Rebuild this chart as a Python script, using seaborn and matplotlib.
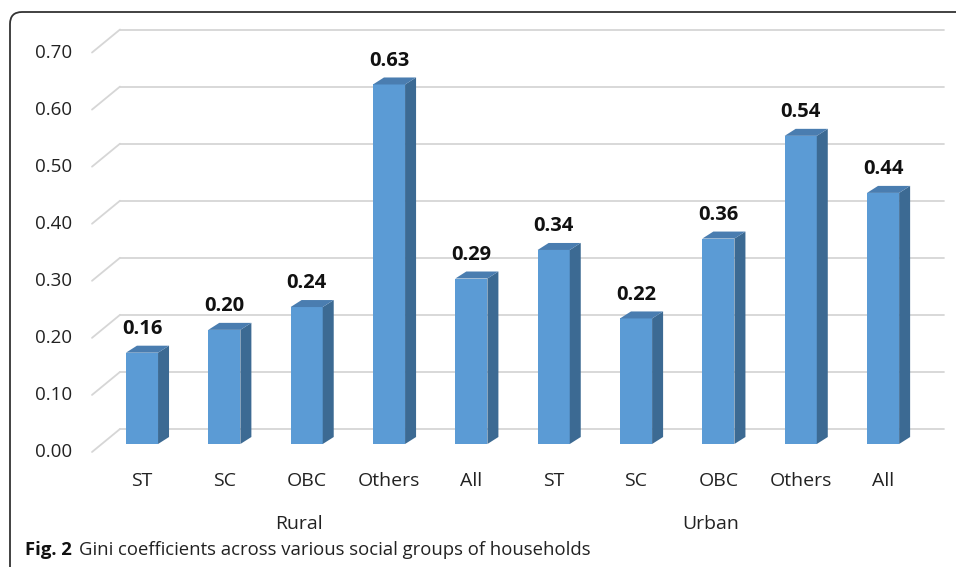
import matplotlib
matplotlib.use("Agg")
import matplotlib.pyplot as plt
import matplotlib.transforms as mtrans
from matplotlib.patches import Polygon, FancyBboxPatch
import numpy as np
import pandas as pd
import seaborn as sns

# ==============================
# DATA
# ==============================
groups = ["Rural", "Rural", "Rural", "Rural", "Rural",
          "Urban", "Urban", "Urban", "Urban", "Urban"]
social = ["ST", "SC", "OBC", "Others", "All",
          "ST", "SC", "OBC", "Others", "All"]
gini = [0.16, 0.20, 0.24, 0.63, 0.29, 0.34, 0.22, 0.36, 0.54, 0.44]
y_ticks = [0.0, 0.1, 0.2, 0.3, 0.4, 0.5, 0.6, 0.7]
group_names = ["Rural", "Urban"]

df = pd.DataFrame({"group": groups, "social": social, "gini": gini})
df["key"] = df["group"] + " " + df["social"]

FRONT = "#5B9BD5"
SIDE = "#3C6A93"
TOP = "#4A7DB0"
GRID = "#D6D6D6"

sns.set_style("white")
plt.rcParams["font.family"] = ["Open Sans", "DejaVu Sans"]

fig = plt.figure(figsize=(9.56, 5.67), dpi=100)
W, H = 956, 567
# axes placed so that the bars' front faces land where they are in the reference
ax = fig.add_axes([92 / W, (H - 444) / H, 824 / W, 428 / H])

sns.barplot(data=df, x="key", y="gini", color=FRONT, width=0.39,
            saturation=1, linewidth=0, edgecolor=FRONT, ax=ax, zorder=3)
ax.set_xlim(-0.607, 9.40)
ax.set_ylim(0, 0.75)
for s in ax.spines.values():
    s.set_visible(False)
ax.set_xlabel("")
ax.set_ylabel("")

def shifted(base, dx, dy):
    # dx, dy in pixels
    return base + mtrans.ScaledTranslation(dx / 100, dy / 100, fig.dpi_scale_trans)

blend = mtrans.blended_transform_factory(ax.transAxes, ax.transData)

# back wall gridlines + the little diagonal floor stubs
for v in y_ticks:
    ax.plot([0, 1], [v, v], color=GRID, lw=1.3, zorder=0, clip_on=False,
            transform=shifted(blend, 28, 15))
    p0 = blend.transform((0, v)) + np.array([0, -8])
    p1 = blend.transform((0, v)) + np.array([28, 15])
    ax.plot([p0[0], p1[0]], [p0[1], p1[1]], color=GRID, lw=1.3, zorder=0,
            clip_on=False, transform=None)
    ax.text(0, v, f"{v:.2f}", transform=shifted(blend, -20, -8),
            ha="right", va="center", fontsize=13.5, color="#222222")
ax.set_yticks([])

# 3D depth on each bar (side + top faces)
DX, DY = 11, 7
inv = ax.transData.inverted()
for bar in ax.patches:
    x0, w, h = bar.get_x(), bar.get_width(), bar.get_height()
    br = ax.transData.transform((x0 + w, 0))
    tl = ax.transData.transform((x0, h))
    tr = ax.transData.transform((x0 + w, h))
    off = np.array([DX, DY])
    side = [br, tr, tr + off, br + off]
    top = [tl, tr, tr + off, tl + off]
    ax.add_patch(Polygon(inv.transform(side), closed=True, facecolor=SIDE,
                         edgecolor="none", zorder=3, clip_on=False))
    ax.add_patch(Polygon(inv.transform(top), closed=True, facecolor=TOP,
                         edgecolor="none", zorder=3, clip_on=False))
    ax.annotate(f"{h:.2f}", (x0 + w / 2, h), xytext=(0, 17),
                textcoords="offset points", ha="center", va="center",
                fontsize=14.5, fontweight="bold", color="#111111")

ax.set_xticks(range(len(social)))
ax.set_xticklabels(social, fontsize=14, color="#222222")
ax.tick_params(axis="x", length=0, pad=20.5)

# group labels under the categories
for g in group_names:
    idx = [k for k, gg in enumerate(groups) if gg == g]
    mid = (idx[0] + idx[-1]) / 2 - 0.09
    ax.text(mid, 0, g, transform=shifted(ax.transData, 0, -80),
            ha="center", va="center", fontsize=14, color="#222222")

# caption
cap = fig.text(25 / W, 1 - 550 / H, "Fig. 2", fontsize=13.3, fontweight="bold",
               va="center", ha="left", color="#111111")
fig.canvas.draw()
bb = cap.get_window_extent()
fig.text((bb.x1 + 7) / W, 1 - 550 / H,
         "Gini coefficients across various social groups of households",
         fontsize=13.3, va="center", ha="left", color="#222222")

# rounded frame
frame = FancyBboxPatch((0.10, -0.13), 9.7, 5.68,
                       boxstyle="round,pad=0,rounding_size=0.12",
                       transform=fig.dpi_scale_trans, facecolor="none",
                       edgecolor="#333333", lw=1.3, clip_on=False)
fig.add_artist(frame)

plt.savefig("out.png", dpi=100)
